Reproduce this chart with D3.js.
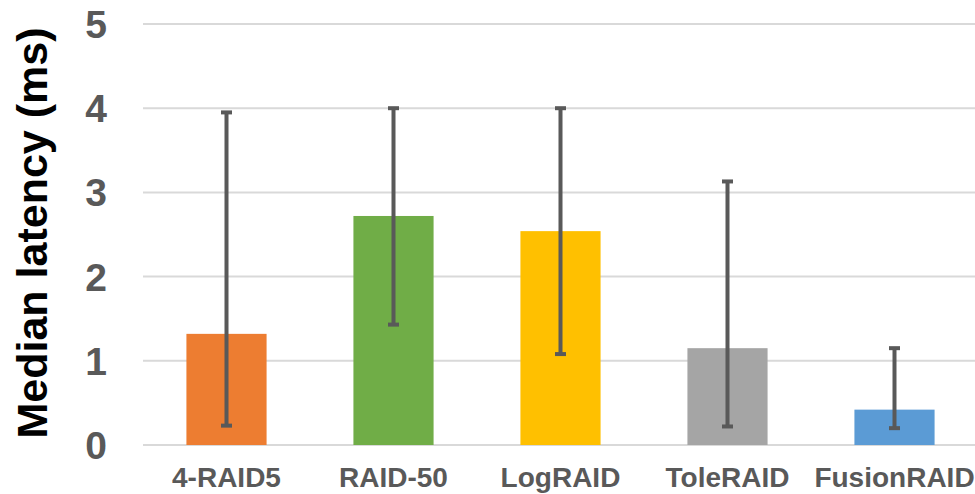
<!DOCTYPE html>
<html>
<head>
<meta charset="utf-8">
<script src="https://cdn.jsdelivr.net/npm/d3@7"></script>
<style>
  body { margin: 0; background: #fff; }
  text { font-family: "Liberation Sans", Arial, sans-serif; font-weight: bold; }
</style>
</head>
<body>
<div id="container"></div>
<script>
/* DATA */
const categories = ["4-RAID5", "RAID-50", "LogRAID", "ToleRAID", "FusionRAID"]
const medians = [1.32, 2.72, 2.54, 1.15, 0.42]
const errLow = [0.23, 1.43, 1.08, 0.22, 0.20]
const errHigh = [3.95, 4.0, 4.0, 3.13, 1.15]
const colors = ["#ED7D31", "#70AD47", "#FFC000", "#A5A5A5", "#5B9BD5"]
const yTicks = [0, 1, 2, 3, 4, 5]

/* CONSTANTS */
const width = 975, height = 494
const plotLeft = 143, plotRight = 978, plotTop = 24, plotBottom = 445

const data = categories.map((c, i) => ({
  name: c, value: medians[i], lo: errLow[i], hi: errHigh[i], color: colors[i]
}))

// SCALES
const xScale = d3.scaleBand()
  .domain(categories)
  .range([plotLeft, plotRight])
  .paddingInner(0.52)
  .paddingOuter(0.26)

const yScale = d3.scaleLinear()
  .domain([0, 5])
  .range([plotBottom, plotTop])

const svg = d3.select("#container")
  .append("svg")
  .attr("width", width)
  .attr("height", height)

// GRIDLINES
svg.append("g")
  .selectAll("line")
  .data(yTicks)
  .join("line")
  .attr("x1", plotLeft)
  .attr("x2", plotRight)
  .attr("y1", d => yScale(d))
  .attr("y2", d => yScale(d))
  .attr("stroke", "#d9d9d9")
  .attr("stroke-width", 2)

// Y TICK LABELS
svg.append("g")
  .selectAll("text")
  .data(yTicks)
  .join("text")
  .attr("x", 107)
  .attr("y", d => yScale(d))
  .attr("dy", "0.36em")
  .attr("text-anchor", "end")
  .attr("fill", "#595959")
  .style("font-size", "39px")
  .text(d => d)

// Y TITLE
svg.append("text")
  .attr("transform", `translate(47, 233)rotate(-90)`)
  .attr("text-anchor", "middle")
  .attr("fill", "#000")
  .style("font-size", "43px")
  .text("Median latency (ms)")

// BARS
svg.append("g")
  .selectAll("rect")
  .data(data)
  .join("rect")
  .attr("x", d => xScale(d.name))
  .attr("width", xScale.bandwidth())
  .attr("y", d => yScale(d.value))
  .attr("height", d => yScale(0) - yScale(d.value))
  .attr("fill", d => d.color)

// ERROR BARS
const eb = svg.append("g")
  .selectAll("g")
  .data(data)
  .join("g")
  .attr("stroke", "#595959")

const cx = d => xScale(d.name) + xScale.bandwidth() / 2

eb.append("line")
  .attr("x1", cx).attr("x2", cx)
  .attr("y1", d => yScale(d.lo))
  .attr("y2", d => yScale(d.hi))
  .attr("stroke-width", 4)

eb.selectAll("line.cap")
  .data(d => [d.lo, d.hi].map(v => ({ x: cx(d), v })))
  .join("line")
  .attr("class", "cap")
  .attr("x1", d => d.x - 5.5)
  .attr("x2", d => d.x + 5.5)
  .attr("y1", d => yScale(d.v))
  .attr("y2", d => yScale(d.v))
  .attr("stroke-width", 4)

// X LABELS
svg.append("g")
  .selectAll("text")
  .data(categories)
  .join("text")
  .attr("x", d => xScale(d) + xScale.bandwidth() / 2)
  .attr("y", 487)
  .attr("text-anchor", "middle")
  .attr("fill", "#595959")
  .style("font-size", "28px")
  .text(d => d)
</script>
</body>
</html>
